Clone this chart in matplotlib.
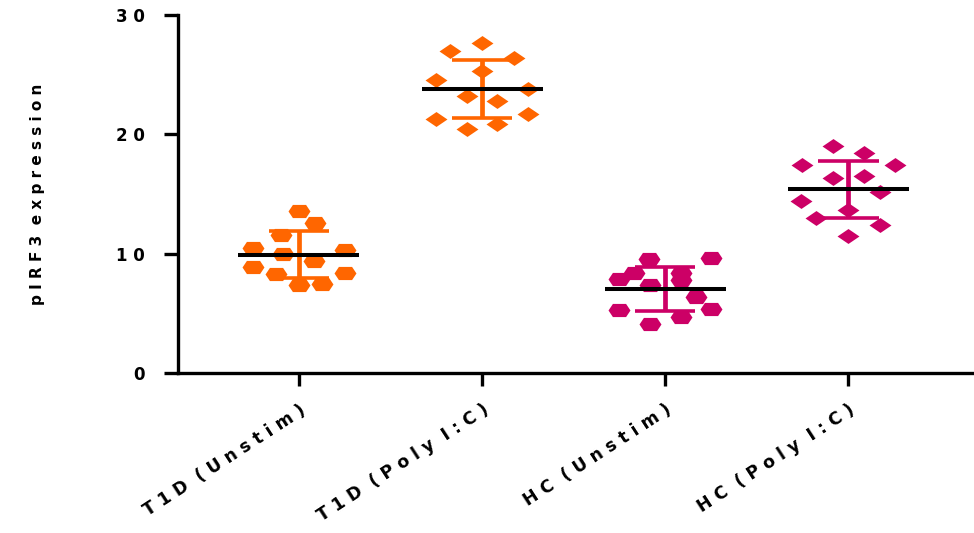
import matplotlib.pyplot as plt
import numpy as np

groups = ["T1D (Unstim)", "T1D (Poly I:C)", "HC (Unstim)", "HC (Poly I:C)"]
y_label = "pIRF3 expression"
y_ticks = [0, 10, 20, 30]

t1d_unstim = [13.6, 12.6, 11.6, 10.5, 9.96, 10.35, 9.37, 8.87, 8.34, 8.39, 7.39, 7.45]
t1d_polyic = [27.67, 27.0, 26.36, 25.3, 24.58, 23.82, 23.2, 22.79, 21.26, 21.73, 20.48, 20.9]
hc_unstim = [9.54, 9.6, 8.39, 7.92, 8.42, 7.78, 7.36, 6.39, 5.3, 5.33, 4.71, 4.1]
hc_polyic = [19.0, 18.44, 17.4, 17.43, 16.35, 16.49, 15.17, 14.39, 13.64, 12.97, 12.38, 11.46]

# mean and SD
means = [9.93, 23.8, 7.06, 15.4]
sds = [1.95, 2.45, 1.85, 2.4]

# horizontal scatter of each point
jitter = [
    [0, 0.087, -0.1, -0.253, -0.086, 0.253, 0.084, -0.253, -0.126, 0.25, 0, 0.124],
    [0, -0.175, 0.175, 0, -0.253, 0.251, -0.084, 0.084, -0.253, 0.251, -0.084, 0.084],
    [-0.087, 0.251, -0.173, -0.255, 0.086, 0.086, -0.082, 0.169, -0.255, 0.251, 0.086, -0.082],
    [-0.086, 0.087, -0.251, 0.253, -0.084, 0.086, 0.175, -0.258, 0, -0.177, 0.171, 0],
]

orange = "#FF6600"
magenta = "#CC0066"
colors = [orange, orange, magenta, magenta]

# squashed hexagon and diamond like the Prism markers
hexa = [(-1, 0), (-0.6, 0.6), (0.6, 0.6), (1, 0), (0.6, -0.6), (-0.6, -0.6), (-1, 0)]
diam = [(-1, 0), (0, 0.68), (1, 0), (0, -0.68), (-1, 0)]
markers = [hexa, diam, hexa, diam]


def spaced(s):
    # Prism export draws the text letter-spaced
    return " ".join(s).replace("   ", "  ")


plt.rcParams['font.family'] = ['DejaVu Sans']

fig = plt.figure(figsize=(9.74, 5.33), dpi=100)
ax = fig.add_axes([0.1828, 0.30, 0.818, 0.672])

data = [t1d_unstim, t1d_polyic, hc_unstim, hc_polyic]
for i, vals in enumerate(data):
    xs = i + np.array(jitter[i])
    ax.plot(xs, vals, linestyle='none', marker=markers[i], markersize=15.8,
            color=colors[i], markeredgewidth=0, clip_on=False, zorder=2)

for i in range(4):
    m, s = means[i], sds[i]
    ax.plot([i, i], [m - s, m + s], color=colors[i], lw=3.4, zorder=3, solid_capstyle='butt')
    ax.plot([i - 0.165, i + 0.165], [m + s, m + s], color=colors[i], lw=2.6, zorder=3, solid_capstyle='butt')
    ax.plot([i - 0.165, i + 0.165], [m - s, m - s], color=colors[i], lw=2.6, zorder=3, solid_capstyle='butt')
    ax.plot([i - 0.33, i + 0.33], [m, m], color='black', lw=2.9, zorder=4, solid_capstyle='butt')

ax.set_xlim(-0.66, 3.69)
ax.set_ylim(0, 30)
ax.set_yticks(y_ticks)
ax.set_yticklabels([spaced(str(t)) for t in y_ticks], fontsize=12, fontweight='bold')
ax.set_xticks(range(4))
ax.set_xticklabels([spaced(g) for g in groups], rotation=33, ha='right', rotation_mode='anchor',
                   fontsize=12.5, fontweight='bold')

ax.spines.right.set_visible(False)
ax.spines.top.set_visible(False)
ax.spines.left.set_linewidth(2.4)
ax.spines.bottom.set_linewidth(2.4)
ax.tick_params(axis='y', length=10, width=2.4, pad=14)
ax.tick_params(axis='x', length=9, width=2.4, pad=11)

ax.set_ylabel(spaced(y_label), fontsize=11, fontweight='bold', va='center')
ax.yaxis.set_label_coords(-0.176, 0.5)

fig.savefig("out.png", dpi=100)
